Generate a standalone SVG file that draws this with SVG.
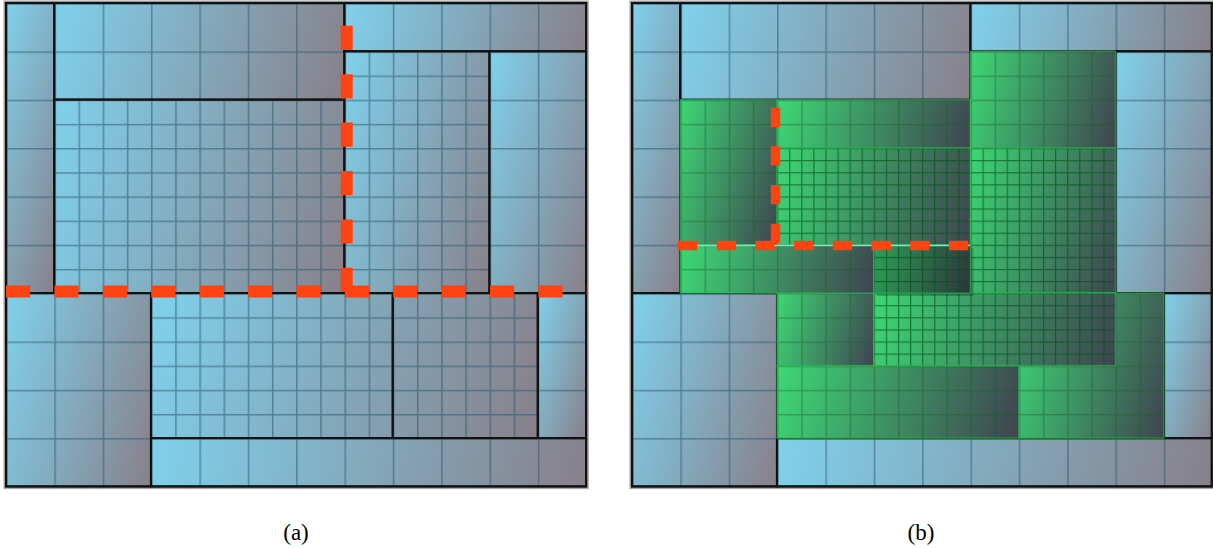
<svg xmlns="http://www.w3.org/2000/svg" width="1213" height="548" viewBox="0 0 1213 548">
<style>
.blk{stroke:#111;stroke-width:2.2}
.gb{stroke:rgba(30,190,70,0.6);stroke-width:1.5}
.frame{fill:none;stroke:#111;stroke-width:2.2}
.outer{fill:none;stroke:#a8a8a8;stroke-width:1.5}
.reda{fill:none;stroke:#fe4313;stroke-width:12;stroke-dasharray:24.2 24.2}
.redb{fill:none;stroke:#fe4313;stroke-width:9.5;stroke-dasharray:19.35 19.35}
.lbl{font-family:"Liberation Serif","Times New Roman",serif;font-size:23px;fill:#000}
</style>
<defs>
<linearGradient id="gBlue"><stop offset="0" stop-color="#7fd1ec"/><stop offset="1" stop-color="#88808a"/></linearGradient>
<linearGradient id="gGreen"><stop offset="0" stop-color="#3dd775"/><stop offset="1" stop-color="#3f4450"/></linearGradient>
<linearGradient id="gA1" href="#gBlue" gradientUnits="userSpaceOnUse" x1="6" y1="3" x2="124.07" y2="34.88"/>
<linearGradient id="gA2" href="#gBlue" gradientUnits="userSpaceOnUse" x1="54.35" y1="3" x2="349.05" y2="82.6"/>
<linearGradient id="gA3" href="#gBlue" gradientUnits="userSpaceOnUse" x1="344.45" y1="3" x2="581.95" y2="67.1"/>
<linearGradient id="gA4" href="#gBlue" gradientUnits="userSpaceOnUse" x1="54.35" y1="99.7" x2="373.45" y2="185.9"/>
<linearGradient id="gA5" href="#gBlue" gradientUnits="userSpaceOnUse" x1="344.45" y1="51.35" x2="540.45" y2="104.25"/>
<linearGradient id="gA6" href="#gBlue" gradientUnits="userSpaceOnUse" x1="489.5" y1="51.35" x2="640.47" y2="92.11"/>
<linearGradient id="gA7" href="#gBlue" gradientUnits="userSpaceOnUse" x1="6" y1="293.1" x2="189.87" y2="342.74"/>
<linearGradient id="gA89" href="#gBlue" gradientUnits="userSpaceOnUse" x1="151.05" y1="293.1" x2="548.07" y2="400.3"/>
<linearGradient id="gA10" href="#gBlue" gradientUnits="userSpaceOnUse" x1="537.85" y1="293.1" x2="619.42" y2="315.12"/>
<linearGradient id="gA11" href="#gBlue" gradientUnits="userSpaceOnUse" x1="151.05" y1="438.15" x2="568.8" y2="550.94"/>
<linearGradient id="gB1" href="#gBlue" gradientUnits="userSpaceOnUse" x1="632" y1="3" x2="750.07" y2="34.88"/>
<linearGradient id="gB2" href="#gBlue" gradientUnits="userSpaceOnUse" x1="680.35" y1="3" x2="975.05" y2="82.6"/>
<linearGradient id="gB3" href="#gBlue" gradientUnits="userSpaceOnUse" x1="970.45" y1="3" x2="1207.95" y2="67.1"/>
<linearGradient id="gB4" href="#gBlue" gradientUnits="userSpaceOnUse" x1="1115.5" y1="51.35" x2="1266.47" y2="92.11"/>
<linearGradient id="gB5" href="#gBlue" gradientUnits="userSpaceOnUse" x1="632" y1="293.1" x2="815.87" y2="342.74"/>
<linearGradient id="gB6" href="#gBlue" gradientUnits="userSpaceOnUse" x1="1163.85" y1="293.1" x2="1245.42" y2="315.12"/>
<linearGradient id="gB7" href="#gBlue" gradientUnits="userSpaceOnUse" x1="777.05" y1="438.15" x2="1194.8" y2="550.94"/>
<linearGradient id="gG1" href="#gGreen" gradientUnits="userSpaceOnUse" x1="680.35" y1="99.7" x2="806.98" y2="133.89"/>
<linearGradient id="gG2" href="#gGreen" gradientUnits="userSpaceOnUse" x1="777.05" y1="99.7" x2="969.48" y2="151.66"/>
<linearGradient id="gG3" href="#gGreen" gradientUnits="userSpaceOnUse" x1="777.05" y1="148.05" x2="981.65" y2="203.29"/>
<linearGradient id="gG4" href="#gGreen" gradientUnits="userSpaceOnUse" x1="680.35" y1="244.75" x2="872.78" y2="296.71"/>
<linearGradient id="gG5" href="#gGreen" gradientUnits="userSpaceOnUse" x1="873.75" y1="244.75" x2="976.05" y2="272.37"/>
<linearGradient id="gG6" href="#gGreen" gradientUnits="userSpaceOnUse" x1="970.45" y1="51.35" x2="1129.98" y2="94.42"/>
<linearGradient id="gG7" href="#gGreen" gradientUnits="userSpaceOnUse" x1="970.45" y1="148.05" x2="1142.15" y2="194.41"/>
<linearGradient id="gG8" href="#gGreen" gradientUnits="userSpaceOnUse" x1="873.75" y1="293.1" x2="1117.33" y2="358.87"/>
<linearGradient id="gG9" href="#gGreen" gradientUnits="userSpaceOnUse" x1="777.05" y1="293.1" x2="885.43" y2="322.36"/>
<linearGradient id="gG10" href="#gGreen" gradientUnits="userSpaceOnUse" x1="777.05" y1="365.6" x2="1020.63" y2="431.37"/>
<linearGradient id="gG11" href="#gGreen" gradientUnits="userSpaceOnUse" x1="1018.8" y1="293.1" x2="1190.5" y2="339.46"/>
<pattern id="pa1" patternUnits="userSpaceOnUse" x="6" y="3" width="48.35" height="48.35"><path d="M0,0V48.35M0,0H48.35" stroke="rgba(40,85,105,0.55)" stroke-width="3" fill="none"/></pattern>
<pattern id="pa2" patternUnits="userSpaceOnUse" x="6" y="3" width="24.175" height="24.175"><path d="M0,0V24.175M0,0H24.175" stroke="rgba(40,85,105,0.55)" stroke-width="3" fill="none"/></pattern>
<pattern id="pb1" patternUnits="userSpaceOnUse" x="632" y="3" width="48.35" height="48.35"><path d="M0,0V48.35M0,0H48.35" stroke="rgba(40,85,105,0.55)" stroke-width="3" fill="none"/></pattern>
<pattern id="pg2" patternUnits="userSpaceOnUse" x="632" y="3" width="24.175" height="24.175"><path d="M0,0V24.175M0,0H24.175" stroke="rgba(20,90,40,0.38)" stroke-width="3" fill="none"/></pattern>
<pattern id="pg4" patternUnits="userSpaceOnUse" x="632" y="3" width="12.0875" height="12.0875"><path d="M0,0V12.0875M0,0H12.0875" stroke="rgba(0,80,20,0.65)" stroke-width="2.4" fill="none"/></pattern>
</defs>

<g id="panel-a">
<g id="a-left"><rect x="6" y="3" width="48.35" height="290.1" fill="url(#gA1)"/><rect class="blk" x="6" y="3" width="48.35" height="290.1" fill="url(#pa1)"/></g>
<g id="a-top"><rect x="54.35" y="3" width="290.1" height="96.7" fill="url(#gA2)"/><rect class="blk" x="54.35" y="3" width="290.1" height="96.7" fill="url(#pa1)"/></g>
<g id="a-topright"><rect x="344.45" y="3" width="241.75" height="48.35" fill="url(#gA3)"/><rect class="blk" x="344.45" y="3" width="241.75" height="48.35" fill="url(#pa1)"/></g>
<g id="a-middle"><rect x="54.35" y="99.7" width="290.1" height="193.4" fill="url(#gA4)"/><rect class="blk" x="54.35" y="99.7" width="290.1" height="193.4" fill="url(#pa2)"/></g>
<g id="a-inner-right"><rect x="344.45" y="51.35" width="145.05" height="241.75" fill="url(#gA5)"/><rect class="blk" x="344.45" y="51.35" width="145.05" height="241.75" fill="url(#pa2)"/></g>
<g id="a-right"><rect x="489.5" y="51.35" width="96.7" height="241.75" fill="url(#gA6)"/><rect class="blk" x="489.5" y="51.35" width="96.7" height="241.75" fill="url(#pa1)"/></g>
<g id="a-bottomleft"><rect x="6" y="293.1" width="145.05" height="193.4" fill="url(#gA7)"/><rect class="blk" x="6" y="293.1" width="145.05" height="193.4" fill="url(#pa1)"/></g>
<g id="a-bottommid"><rect x="151.05" y="293.1" width="241.75" height="145.05" fill="url(#gA89)"/><rect class="blk" x="151.05" y="293.1" width="241.75" height="145.05" fill="url(#pa2)"/></g>
<g id="a-bottomright"><rect x="392.8" y="293.1" width="145.05" height="145.05" fill="url(#gA89)"/><rect class="blk" x="392.8" y="293.1" width="145.05" height="145.05" fill="url(#pa2)"/></g>
<g id="a-farright"><rect x="537.85" y="293.1" width="48.35" height="145.05" fill="url(#gA10)"/><rect class="blk" x="537.85" y="293.1" width="48.35" height="145.05" fill="url(#pa1)"/></g>
<g id="a-bottomstrip"><rect x="151.05" y="438.15" width="435.15" height="48.35" fill="url(#gA11)"/><rect class="blk" x="151.05" y="438.15" width="435.15" height="48.35" fill="url(#pa1)"/></g>
<rect class="outer" x="4.2" y="1.2" width="583.8" height="487.2"/>
<rect class="frame" x="6" y="3" width="580.2" height="483.5"/>
<g id="a-cut">
<path class="reda" d="M346.7,292V3"/>
<path class="reda" d="M6,291.5H587"/>
</g>
</g>

<g id="panel-b">
<g id="b-left"><rect x="632" y="3" width="48.35" height="290.1" fill="url(#gB1)"/><rect class="blk" x="632" y="3" width="48.35" height="290.1" fill="url(#pb1)"/></g>
<g id="b-top"><rect x="680.35" y="3" width="290.1" height="96.7" fill="url(#gB2)"/><rect class="blk" x="680.35" y="3" width="290.1" height="96.7" fill="url(#pb1)"/></g>
<g id="b-topright"><rect x="970.45" y="3" width="241.75" height="48.35" fill="url(#gB3)"/><rect class="blk" x="970.45" y="3" width="241.75" height="48.35" fill="url(#pb1)"/></g>
<g id="b-right"><rect x="1115.5" y="51.35" width="96.7" height="241.75" fill="url(#gB4)"/><rect class="blk" x="1115.5" y="51.35" width="96.7" height="241.75" fill="url(#pb1)"/></g>
<g id="b-bottomleft"><rect x="632" y="293.1" width="145.05" height="193.4" fill="url(#gB5)"/><rect class="blk" x="632" y="293.1" width="145.05" height="193.4" fill="url(#pb1)"/></g>
<g id="b-farright"><rect x="1163.85" y="293.1" width="48.35" height="145.05" fill="url(#gB6)"/><rect class="blk" x="1163.85" y="293.1" width="48.35" height="145.05" fill="url(#pb1)"/></g>
<g id="b-bottomstrip"><rect x="777.05" y="438.15" width="435.15" height="48.35" fill="url(#gB7)"/><rect class="blk" x="777.05" y="438.15" width="435.15" height="48.35" fill="url(#pb1)"/></g>

<g id="g1"><rect x="680.35" y="99.7" width="96.7" height="145.05" fill="url(#gG1)"/><rect class="gb" x="680.35" y="99.7" width="96.7" height="145.05" fill="url(#pg2)"/></g>
<g id="g2"><rect x="777.05" y="99.7" width="193.4" height="48.35" fill="url(#gG2)"/><rect class="gb" x="777.05" y="99.7" width="193.4" height="48.35" fill="url(#pg2)"/></g>
<g id="g3"><rect x="777.05" y="148.05" width="193.4" height="96.7" fill="url(#gG3)"/><rect class="gb" x="777.05" y="148.05" width="193.4" height="96.7" fill="url(#pg4)"/></g>
<g id="g6"><rect x="970.45" y="51.35" width="145.05" height="96.7" fill="url(#gG6)"/><rect class="gb" x="970.45" y="51.35" width="145.05" height="96.7" fill="url(#pg2)"/></g>
<g id="g7"><rect x="970.45" y="148.05" width="145.05" height="145.05" fill="url(#gG7)"/><rect class="gb" x="970.45" y="148.05" width="145.05" height="145.05" fill="url(#pg4)"/></g>
<g id="g11"><rect x="1018.8" y="293.1" width="145.05" height="145.05" fill="url(#gG11)"/><rect class="gb" x="1018.8" y="293.1" width="145.05" height="145.05" fill="url(#pg2)"/></g>
<g id="g10"><rect x="777.05" y="365.6" width="241.75" height="72.55" fill="url(#gG10)"/><rect class="gb" x="777.05" y="365.6" width="241.75" height="72.55" fill="url(#pg2)"/></g>
<g id="g9"><rect x="777.05" y="293.1" width="96.7" height="72.5" fill="url(#gG9)"/><rect class="gb" x="777.05" y="293.1" width="96.7" height="72.5" fill="url(#pg2)"/></g>
<g id="g8"><rect x="873.75" y="293.1" width="241.75" height="72.5" fill="url(#gG8)"/><rect class="gb" x="873.75" y="293.1" width="241.75" height="72.5" fill="url(#pg4)"/></g>
<g id="g4"><rect x="680.35" y="244.75" width="193.4" height="48.35" fill="url(#gG4)"/><rect class="gb" x="680.35" y="244.75" width="193.4" height="48.35" fill="url(#pg2)"/></g>
<g id="g5"><rect x="876.75" y="247.75" width="96.7" height="48.35" fill="#000" opacity="0.22"/><rect x="873.75" y="244.75" width="96.7" height="48.35" fill="url(#gG5)"/><rect x="873.75" y="244.75" width="96.7" height="48.35" fill="#000" opacity="0.25"/><rect class="gb" x="873.75" y="244.75" width="96.7" height="48.35" fill="url(#pg4)"/></g>

<rect class="outer" x="630.2" y="1.2" width="583" height="487.2"/>
<rect class="frame" x="632" y="3" width="579.7" height="483.5"/>
<g id="b-cut">
<path d="M680.35,245.5H970" stroke="#9fcfe6" stroke-width="1.5" fill="none"/>
<path class="redb" d="M775.5,243V99.7"/>
<path class="redb" d="M678,245.5H970"/>
</g>
</g>

<text class="lbl" x="296" y="540" text-anchor="middle">(a)</text>
<text class="lbl" x="921" y="540" text-anchor="middle">(b)</text>
</svg>
